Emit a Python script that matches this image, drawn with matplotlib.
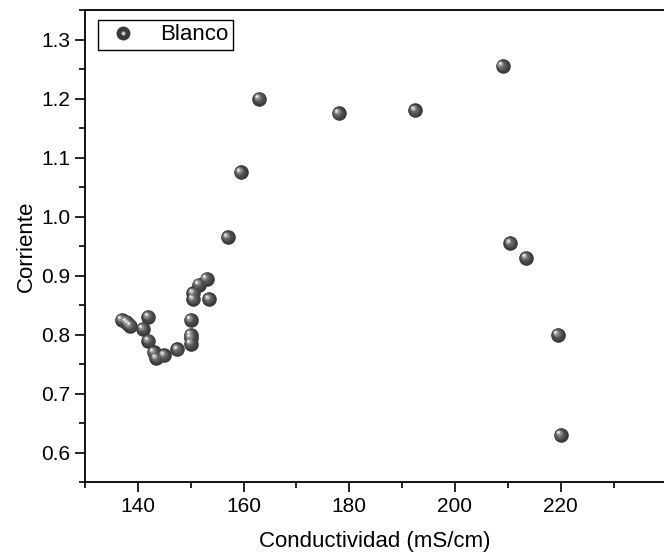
import matplotlib.pyplot as plt
import matplotlib.transforms as mtransforms
from matplotlib.lines import Line2D
from matplotlib.legend_handler import HandlerTuple
from matplotlib.ticker import MultipleLocator

plt.rcParams['font.family'] = ['Liberation Sans', 'DejaVu Sans']

# Datos
conductividad = [137.0, 137.8, 138.2, 138.6, 141.0, 142.0, 142.0, 143.0, 143.5,
                 145.0, 147.5, 150.0, 150.0, 150.0, 150.0, 150.5, 150.5, 151.5,
                 153.0, 153.5, 157.0, 159.5, 163.0, 178.0, 192.5, 209.0, 210.5,
                 213.5, 219.5, 220.0]
corriente = [0.825, 0.822, 0.818, 0.815, 0.810, 0.830, 0.790, 0.770, 0.760,
             0.765, 0.775, 0.825, 0.800, 0.795, 0.785, 0.870, 0.860, 0.885,
             0.895, 0.860, 0.965, 1.075, 1.200, 1.175, 1.180, 1.255, 0.955,
             0.930, 0.800, 0.630]

fig = plt.figure(figsize=(6.64, 5.58), dpi=100)
ax = fig.add_axes([0.128, 0.1357, 0.874, 0.8463])

# esfera: capas concéntricas desplazadas hacia arriba a la izquierda
capas = [(10.5, '#3a3a3a', 0, 0),
         (8.4, '#4a4a4a', -0.6, 0.6),
         (6.3, '#626262', -1.1, 1.1),
         (4.4, '#8a8a8a', -1.5, 1.5),
         (2.7, '#c0c0c0', -1.9, 1.9),
         (1.4, '#f0f0f0', -2.1, 2.1)]
for ms, color, dx, dy in capas:
    tr = mtransforms.offset_copy(ax.transData, fig=fig, x=dx, y=dy, units='points')
    ax.plot(conductividad, corriente, 'o', ms=ms, color=color, mec='none',
            transform=tr, clip_on=False)

ax.set_xlim(130, 239.8)
ax.set_ylim(0.55, 1.35)
ax.xaxis.set_major_locator(MultipleLocator(20))
ax.xaxis.set_minor_locator(MultipleLocator(10))
ax.yaxis.set_major_locator(MultipleLocator(0.1))
ax.yaxis.set_minor_locator(MultipleLocator(0.05))
ax.tick_params(which='major', direction='out', length=7, width=1.2, labelsize=15)
ax.tick_params(which='minor', direction='out', length=4, width=1.2)
ax.yaxis.set_major_formatter(plt.FormatStrFormatter('%.1f'))
for s in ax.spines.values():
    s.set_linewidth(1.3)
ax.spines['right'].set_visible(False)

ax.set_xlabel('Conductividad (mS/cm)', fontsize=16, labelpad=11)
ax.set_ylabel('Corriente', fontsize=16, labelpad=3)

h_base = Line2D([], [], ls='none', marker='o', ms=10, color='#3a3a3a', mec='none')
h_luz = Line2D([], [], ls='none', marker='o', ms=3, color='#c0c0c0', mec='none')
leg = ax.legend([(h_base, h_luz)], ['Blanco'], handler_map={tuple: HandlerTuple(ndivide=1)},
                loc='upper left', bbox_to_anchor=(0.022, 0.979), borderaxespad=0,
                fontsize=16, frameon=True, fancybox=False, edgecolor='black',
                framealpha=1, borderpad=0.2, handlelength=1.9, handletextpad=0.7)
leg.get_frame().set_linewidth(1.0)

fig.savefig('out.png', dpi=100)
